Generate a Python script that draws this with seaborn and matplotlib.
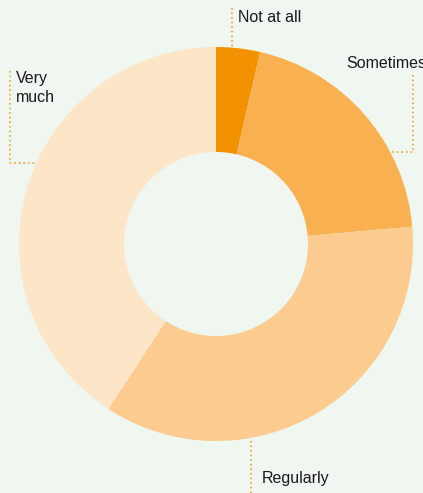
import matplotlib
matplotlib.use("Agg")
import matplotlib.pyplot as plt
import seaborn as sns

# Share of answers per category, clockwise from 12 o'clock
categories = ["Not at all", "Sometimes", "Regularly", "Very much"]
shares = [3.6, 20.0, 35.6, 40.8]
label_texts = ["Not at all", "Sometimes", "Regularly", "Very\nmuch"]

sns.set_theme(style="white")
plt.rcParams["font.family"] = ["Liberation Sans", "DejaVu Sans"]

bg = "#F0F6F0"
palette = sns.color_palette(["#F39200", "#F8B050", "#FBCB8F", "#FDE5C8"])
accent = "#F39200"

W, H = 423, 493
fig = plt.figure(figsize=(W / 100, H / 100), dpi=100, facecolor=bg)
ax = fig.add_axes([0, 0, 1, 1])
ax.set_facecolor(bg)
ax.set_xlim(0, W)
ax.set_ylim(0, H)
ax.set_aspect("equal")
ax.axis("off")

cx, cy = 216, H - 244
r_out, r_in = 197, 92

ax.pie(shares, colors=palette, startangle=90, counterclock=False,
       center=(cx, cy), radius=r_out, frame=True,
       wedgeprops=dict(width=r_out - r_in, linewidth=0))
ax.set_xlim(0, W)
ax.set_ylim(0, H)
ax.axis("off")

# dotted leader lines (pixel coordinates from the top-left)
def leader(xs, ys):
    ax.plot(xs, [H - y for y in ys], color=accent, lw=1.1,
            linestyle=(0, (1, 2)), solid_capstyle="butt")

leader([231.5, 231.5], [8, 47])
leader([413, 413, 390], [75, 152, 152])
leader([10, 10, 36], [71, 163, 163])
leader([251, 251], [441, 493])

txt = dict(fontsize=11.5, color="#1a1a1a", va="center", ha="left")
ax.text(238, H - 18, label_texts[0], **txt)
ax.text(346, H - 63, label_texts[1], clip_on=False, **txt)
ax.text(262, H - 479, label_texts[2], **txt)
ax.text(16, H - 88, label_texts[3], linespacing=1.25, **txt)

fig.savefig("out.png", dpi=100, facecolor=bg)
